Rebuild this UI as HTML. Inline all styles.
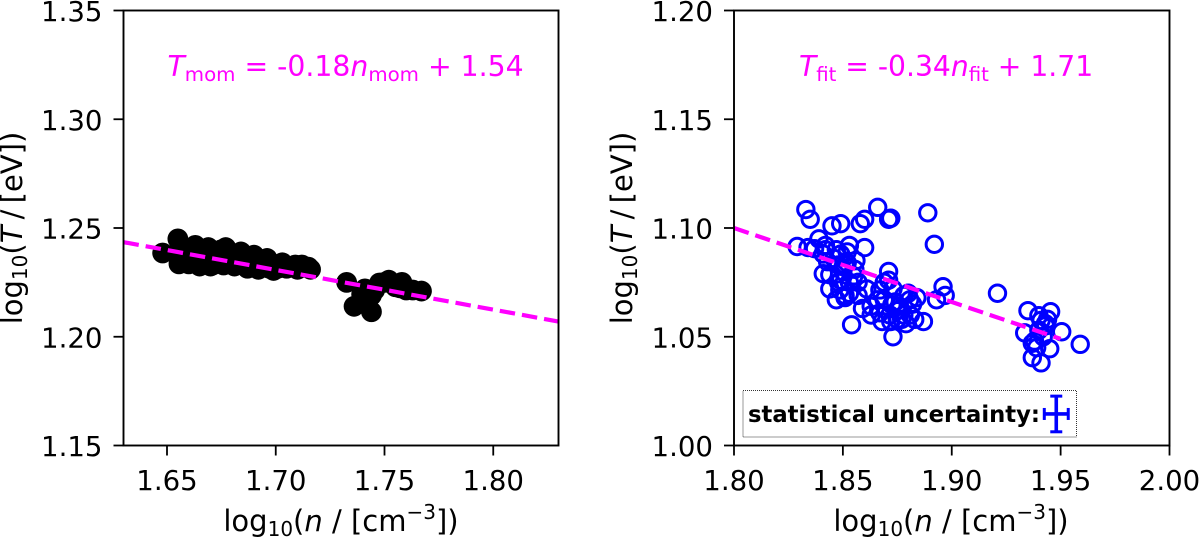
<!DOCTYPE html>
<html>
<head>
<meta charset="utf-8">
<title>Temperature vs density fits</title>
<style>
html,body{margin:0;padding:0;background:#fff;width:1200px;height:537px;overflow:hidden}
svg{display:block}
text{font-family:"DejaVu Sans","Liberation Sans",sans-serif;fill:#000}
</style>
</head>
<body>
<svg id="fig" xmlns="http://www.w3.org/2000/svg" width="1200" height="537" viewBox="0 0 1200 537">
  <g id="left-layer"></g>
  <g id="right-layer"></g>

  <text x="167.5" y="76" font-size="28.3" style="fill:#ff00ff"><tspan font-style="italic">T</tspan><tspan font-size="19.8" dy="5">mom</tspan><tspan dy="-5"> = -0.18</tspan><tspan font-style="italic">n</tspan><tspan font-size="19.8" dy="5">mom</tspan><tspan dy="-5"> + 1.54</tspan></text>
  <text x="799" y="76" font-size="28.2" style="fill:#ff00ff"><tspan font-style="italic">T</tspan><tspan font-size="19.7" dy="5">fit</tspan><tspan dy="-5"> = -0.34</tspan><tspan font-style="italic">n</tspan><tspan font-size="19.7" dy="5">fit</tspan><tspan dy="-5"> + 1.71</tspan></text>

  <text x="341" y="531" text-anchor="middle" font-size="29">log<tspan font-size="20" dy="5">10</tspan><tspan dy="-5">(</tspan><tspan font-style="italic">n</tspan> / [cm<tspan font-size="20" dy="-12">−3</tspan><tspan dy="12">])</tspan></text>
  <text x="951" y="531" text-anchor="middle" font-size="29">log<tspan font-size="20" dy="5">10</tspan><tspan dy="-5">(</tspan><tspan font-style="italic">n</tspan> / [cm<tspan font-size="20" dy="-12">−3</tspan><tspan dy="12">])</tspan></text>
  <text transform="translate(22,228) rotate(-90)" text-anchor="middle" font-size="29" word-spacing="-3">log<tspan font-size="20" dy="5">10</tspan><tspan dy="-5">(</tspan><tspan font-style="italic">T</tspan> / [eV])</text>
  <text transform="translate(632,228) rotate(-90)" text-anchor="middle" font-size="29" word-spacing="-3">log<tspan font-size="20" dy="5">10</tspan><tspan dy="-5">(</tspan><tspan font-style="italic">T</tspan> / [eV])</text>

  <rect x="743" y="390.5" width="333.5" height="46.5" fill="#fff" stroke="#333" stroke-width="1" stroke-dasharray="1 1"></rect>
  <text x="748" y="422" font-size="22.7" font-weight="bold">statistical uncertainty:</text>
  <g id="errorbar-layer"></g>
</svg>
<script>
// Left panel data
const leftXTicks = [1.65, 1.70, 1.75, 1.80];
const leftYTicks = [1.15, 1.20, 1.25, 1.30, 1.35];
const leftXLabels = ["1.65", "1.70", "1.75", "1.80"];
const leftYLabels = ["1.15", "1.20", "1.25", "1.30", "1.35"];
const leftN = [1.648,1.655,1.655,1.6555,1.658,1.661,1.663,1.665,1.666,1.668,1.669,1.671,1.673,1.675,1.676,1.677,1.679,1.681,1.683,1.684,1.686,1.687,1.689,1.691,1.693,1.696,1.697,1.699,1.701,1.703,1.709,1.710,1.715,1.716,
  1.660,1.670,1.681,1.692,1.705,1.690,1.703,1.712,
  1.7326,1.736,1.740,1.744,1.744,1.7477,1.750,1.752,1.755,1.758,1.760,1.767,
  1.7395,1.741,1.7455,1.754,1.757,1.763];
const leftT = [1.2385,1.245,1.239,1.2335,1.240,1.236,1.242,1.2325,1.238,1.235,1.241,1.233,1.237,1.240,1.233,1.241,1.236,1.238,1.234,1.239,1.236,1.2315,1.237,1.233,1.235,1.236,1.2315,1.2305,1.2315,1.232,1.233,1.231,1.232,1.231,
  1.2335,1.2325,1.2325,1.231,1.2315,1.2375,1.234,1.233,
  1.225,1.214,1.217,1.2115,1.219,1.2247,1.225,1.226,1.223,1.225,1.2215,1.221,
  1.2195,1.222,1.2215,1.2245,1.2225,1.2215];
const leftFitN = [1.63, 1.83];
const leftFitT = [1.2435, 1.207];

// Right panel data
const rightXTicks = [1.80, 1.85, 1.90, 1.95, 2.00];
const rightYTicks = [1.00, 1.05, 1.10, 1.15, 1.20];
const rightXLabels = ["1.80", "1.85", "1.90", "1.95", "2.00"];
const rightYLabels = ["1.00", "1.05", "1.10", "1.15", "1.20"];
const rightN = [1.829,1.833,1.835,1.834,1.837,1.839,1.841,1.841,1.843,1.845,1.844,1.847,1.849,1.848,1.849,1.851,1.852,1.853,1.854,1.855,1.856,1.857,1.858,1.860,1.860,1.859,1.861,1.863,1.866,1.866,1.867,1.869,1.871,1.871,1.871,1.872,1.873,1.873,1.874,1.875,1.877,1.878,1.880,1.881,1.882,1.884,1.887,1.889,1.892,1.893,1.896,1.897,1.921,
  1.846,1.850,1.842,1.853,1.847,1.857,1.852,1.863,1.868,1.876,1.872,1.879,
  1.844,1.848,1.8486,1.851,1.853,1.8555,1.867,1.869,1.8725,1.876,1.878,1.8716,1.875,1.8807,1.883,1.842,1.849,1.851,
  1.9335,1.935,1.9454,1.9505,1.959,1.937,1.941,1.937,1.939,1.940,1.941,1.943,1.944,1.945,1.942,1.938,1.940,1.943];
const rightT = [1.0915,1.1085,1.104,1.091,1.0905,1.095,1.079,1.088,1.0845,1.101,1.072,1.09,1.102,1.083,1.076,1.068,1.089,1.092,1.0555,1.078,1.085,1.069,1.102,1.104,1.091,1.063,1.072,1.06,1.1095,1.067,1.061,1.075,1.080,1.076,1.104,1.1045,1.05,1.072,1.066,1.062,1.058,1.069,1.07,1.06,1.065,1.068,1.057,1.107,1.0925,1.067,1.073,1.069,1.07,
  1.086,1.080,1.090,1.070,1.067,1.075,1.084,1.064,1.057,1.064,1.057,1.056,
  1.0785,1.075,1.0715,1.069,1.075,1.081,1.0715,1.067,1.0647,1.0624,1.06,1.06,1.058,1.067,1.058,1.092,1.088,1.083,
  1.0518,1.062,1.0615,1.0523,1.0465,1.0404,1.038,1.047,1.045,1.0597,1.0575,1.056,1.058,1.0445,1.05,1.048,1.053,1.055];
const rightFitN = [1.80, 1.95];
const rightFitT = [1.10, 1.049];
const errCenterN = [1.948];
const errCenterT = [1.0145];
const errHalfN = [0.0055];
const errHalfT = [0.0082];

const SVGNS = "http://www.w3.org/2000/svg";

function makeScale(d0, d1, r0, r1) {
  return function (v) { return r0 + (v - d0) * (r1 - r0) / (d1 - d0); };
}
function line(parent, x1, y1, x2, y2, stroke, width) {
  const el = document.createElementNS(SVGNS, "line");
  el.setAttribute("x1", x1);
  el.setAttribute("y1", y1);
  el.setAttribute("x2", x2);
  el.setAttribute("y2", y2);
  el.setAttribute("stroke", stroke);
  el.setAttribute("stroke-width", width);
  parent.appendChild(el);
  return el;
}

function drawPanel(layer, cfg) {
  const sx = makeScale(cfg.xlim[0], cfg.xlim[1], cfg.left, cfg.right);
  const sy = makeScale(cfg.ylim[0], cfg.ylim[1], cfg.bottom, cfg.top);

  // ticks and tick labels
  cfg.xTicks.forEach(function (t, i) {
    const tick = line(layer, sx(t), cfg.bottom, sx(t), cfg.bottom + 10, "#000", 1.8);
    
    
    const lab = document.createElementNS(SVGNS, "text");
    lab.setAttribute("x", sx(t));
    lab.setAttribute("y", 490);
    lab.setAttribute("text-anchor", "middle");
    lab.setAttribute("font-size", "27.6");
    lab.textContent = cfg.xLabels[i];
    
    
    layer.appendChild(lab);
  });
  cfg.yTicks.forEach(function (t, i) {
    const tick = line(layer, cfg.left - 10, sy(t), cfg.left, sy(t), "#000", 1.8);
    
    
    const lab = document.createElementNS(SVGNS, "text");
    lab.setAttribute("x", cfg.left - 21);
    lab.setAttribute("y", sy(t) + 10.5);
    lab.setAttribute("text-anchor", "end");
    lab.setAttribute("font-size", "27.6");
    lab.textContent = cfg.yLabels[i];
    
    
    layer.appendChild(lab);
  });

  // points
  cfg.n.forEach(function (v, i) {
    const c = document.createElementNS(SVGNS, "circle");
    c.setAttribute("cx", sx(v));
    c.setAttribute("cy", sy(cfg.t[i]));
    c.setAttribute("r", cfg.r);
    c.setAttribute("fill", cfg.fill);
    c.setAttribute("stroke", cfg.stroke);
    c.setAttribute("stroke-width", cfg.sw);
    
    
    layer.appendChild(c);
  });

  // fit line
  const fit = line(layer, sx(cfg.fitN[0]), sy(cfg.fitT[0]), sx(cfg.fitN[1]), sy(cfg.fitT[1]), "#ff00ff", 4.2);
  fit.setAttribute("stroke-dasharray", "15.5 7");
  
  

  // frame
  const frame = document.createElementNS(SVGNS, "rect");
  frame.setAttribute("x", cfg.left);
  frame.setAttribute("y", cfg.top);
  frame.setAttribute("width", cfg.right - cfg.left);
  frame.setAttribute("height", cfg.bottom - cfg.top);
  frame.setAttribute("fill", "none");
  frame.setAttribute("stroke", "#000");
  frame.setAttribute("stroke-width", "1.9");
  
  
  layer.appendChild(frame);

  return { sx: sx, sy: sy };
}

drawPanel(document.getElementById("left-layer"), {
  xlim: [1.63, 1.83], ylim: [1.15, 1.35],
  left: 123.5, right: 558.5, top: 10.5, bottom: 445.5,
  xTicks: leftXTicks, yTicks: leftYTicks, xLabels: leftXLabels, yLabels: leftYLabels,
  n: leftN, t: leftT, fitN: leftFitN, fitT: leftFitT,
  r: 10.4, fill: "#000", stroke: "#000", sw: 0
});

const rightScales = drawPanel(document.getElementById("right-layer"), {
  xlim: [1.80, 2.00], ylim: [1.00, 1.20],
  left: 734, right: 1169.5, top: 10.5, bottom: 445.5,
  xTicks: rightXTicks, yTicks: rightYTicks, xLabels: rightXLabels, yLabels: rightYLabels,
  n: rightN, t: rightT, fitN: rightFitN, fitT: rightFitT,
  r: 8.2, fill: "none", stroke: "#0000ff", sw: 3
});

// error bar inside the legend box
const eb = document.getElementById("errorbar-layer");
const ecx = errCenterN[0], ecy = errCenterT[0], ehx = errHalfN[0], ehy = errHalfT[0];
const sx = rightScales.sx, sy = rightScales.sy;
line(eb, sx(ecx - ehx), sy(ecy), sx(ecx + ehx), sy(ecy), "#0000ff", 3.6);
line(eb, sx(ecx), sy(ecy - ehy), sx(ecx), sy(ecy + ehy), "#0000ff", 3.6);
line(eb, sx(ecx - ehx), sy(ecy) - 6, sx(ecx - ehx), sy(ecy) + 6, "#0000ff", 3);
line(eb, sx(ecx + ehx), sy(ecy) - 6, sx(ecx + ehx), sy(ecy) + 6, "#0000ff", 3);
line(eb, sx(ecx) - 6, sy(ecy - ehy), sx(ecx) + 6, sy(ecy - ehy), "#0000ff", 3);
line(eb, sx(ecx) - 6, sy(ecy + ehy), sx(ecx) + 6, sy(ecy + ehy), "#0000ff", 3);
</script>
</body>
</html>
